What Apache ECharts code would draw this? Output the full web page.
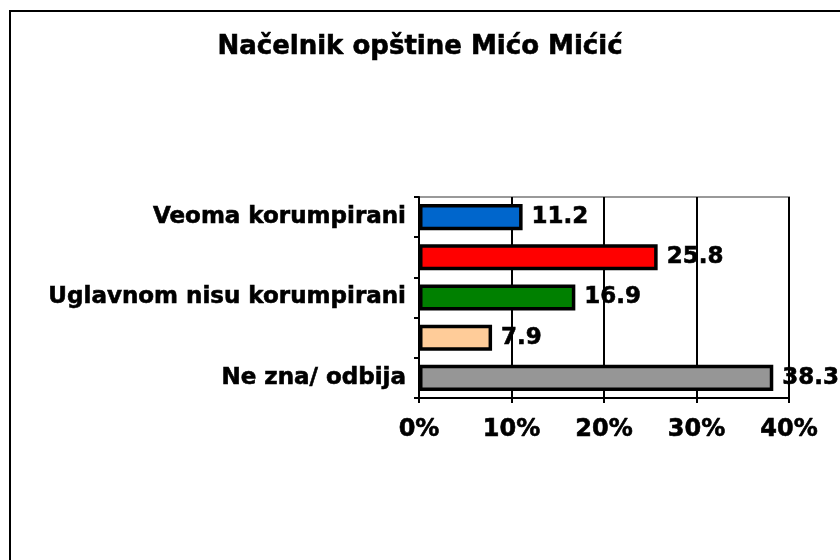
<!DOCTYPE html>
<html>
<head>
<meta charset="utf-8">
<script src="https://cdn.jsdelivr.net/npm/echarts@6/dist/echarts.min.js"></script>
<style>
  html, body { margin: 0; padding: 0; background: #fff; }
  #chart { width: 840px; height: 560px; }
</style>
</head>
<body>
<div id="chart"></div>
<script>
// kategorije (odozgo prema dolje)
var categories = ["Veoma korumpirani", "Uglavnom korumpirani", "Uglavnom nisu korumpirani", "Uopšte nisu korumpirani", "Ne zna/ odbija"];
var values = [11.2, 25.8, 16.9, 7.9, 38.3];
var barColors = ["#0066CC", "#FF0000", "#008000", "#FFCC99", "#969696"];
var xTicks = [0, 10, 20, 30, 40];

var font = "DejaVu Sans";
// malo deblja slova, kao Verdana bold
var heavy = { textBorderColor: "#000", textBorderWidth: 0.6 };
var chart = echarts.init(document.getElementById("chart"));

chart.setOption({
  animation: false,
  backgroundColor: "#fff",
  title: {
    text: "Načelnik opštine Mićo Mićić",
    left: "center",
    top: 29,
    textStyle: Object.assign({ fontFamily: font, fontWeight: "bold", fontSize: 26, color: "#000" }, heavy)
  },
  graphic: [{
    type: "rect",
    shape: { x: 10, y: 11, width: 860, height: 600 },
    style: { fill: "none", stroke: "#000", lineWidth: 2 },
    silent: true
  }],
  grid: {
    left: 419, right: 51, top: 197, bottom: 162,
    show: true, borderColor: "#999", borderWidth: 2, backgroundColor: "transparent"
  },
  xAxis: {
    type: "value",
    min: xTicks[0],
    max: xTicks[xTicks.length - 1],
    interval: 10,
    axisLine: { show: true, lineStyle: { color: "#000", width: 2 } },
    axisTick: { show: true, length: 5, lineStyle: { color: "#000", width: 2 } },
    axisLabel: Object.assign({
      formatter: "{value}%", margin: 20,
      fontFamily: font, fontWeight: "bold", fontSize: 24, color: "#000"
    }, heavy),
    splitLine: { show: true, lineStyle: { color: "#000", width: 2 } }
  },
  yAxis: {
    type: "category",
    inverse: true,
    data: categories,
    axisLine: { show: true, lineStyle: { color: "#000", width: 2 } },
    axisTick: { show: true, interval: 0, length: 5, lineStyle: { color: "#000", width: 2 } },
    axisLabel: Object.assign({
      interval: 1, margin: 13,
      fontFamily: font, fontWeight: "bold", fontSize: 23, color: "#000"
    }, heavy)
  },
  series: [{
    type: "bar",
    data: values.map(function (v, i) {
      return { value: v, itemStyle: { color: barColors[i] } };
    }),
    barCategoryGap: "35%",
    itemStyle: { borderColor: "#000", borderWidth: 3.5 },
    label: Object.assign({
      show: true, position: "right", distance: 9,
      formatter: function (p) { return p.value.toFixed(1); },
      fontFamily: font, fontWeight: "bold", fontSize: 23, color: "#000"
    }, heavy)
  }]
});
</script>
</body>
</html>
